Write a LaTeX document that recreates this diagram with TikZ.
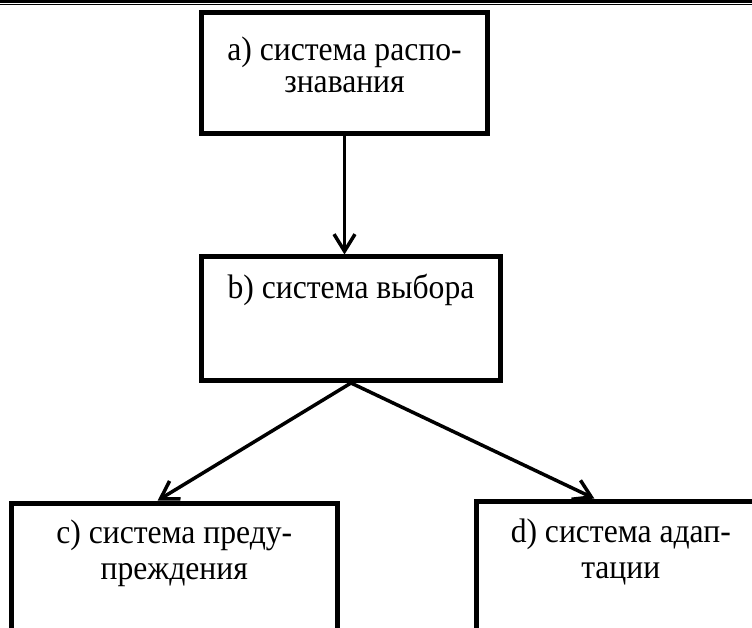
\documentclass[tikz,border=0pt]{standalone}
\usepackage{fontspec}
\setmainfont{Liberation Serif}[FakeStretch=0.93]
\usetikzlibrary{arrows.meta,calc}

\tikzset{
  blok/.style={draw, line width=5pt, inner sep=0pt, anchor=north west},
  arw/.style={line width=3.5pt, -{Straight Barb[length=17pt,width=21pt]}},
}

\begin{document}
\begin{tikzpicture}[x=1pt,y=-1pt]
    \useasboundingbox (0,0) rectangle (752,628);
    \clip (0,0) rectangle (752,628);

    % double rule on top
    \draw[line width=2.7pt] (0,1.35) -- (752,1.35);
    \draw[line width=1.3pt] (0,4.35) -- (752,4.35);

    % blocks
    \node[blok] (a) at (199,10) {\parbox[t][121.5pt][t]{286pt}{\centering\fontsize{34pt}{32pt}\selectfont
        \rule{0pt}{48.5pt}а) система распо-\\знавания}};
    \node[blok] (b) at (199,254.5) {\parbox[t][123.5pt][t]{299pt}{\centering\fontsize{34pt}{36.5pt}\selectfont
        \rule{0pt}{41.5pt}b) система выбора}};
    \node[blok] (c) at (8.5,500.5) {\parbox[t][137pt][t]{326.5pt}{\centering\fontsize{34pt}{36.5pt}\selectfont
        \rule{0pt}{40pt}c) система преду-\\преждения}};
    \node[blok] (d) at (474,498.5) {\parbox[t][129pt][t]{288.5pt}{\centering\fontsize{34pt}{36.5pt}\selectfont
        \rule{0pt}{41pt}d) система адап-\\тации}};

    % arrows
    \draw[arw] (a.south) -- (a.south |- b.north);
    \draw[arw] (b.south) -- ($(c.north west)!0.45!(c.north east)$);
    \draw[arw] (b.south) -- ($(d.north west)!0.41!(d.north east)$);
\end{tikzpicture}
\end{document}
